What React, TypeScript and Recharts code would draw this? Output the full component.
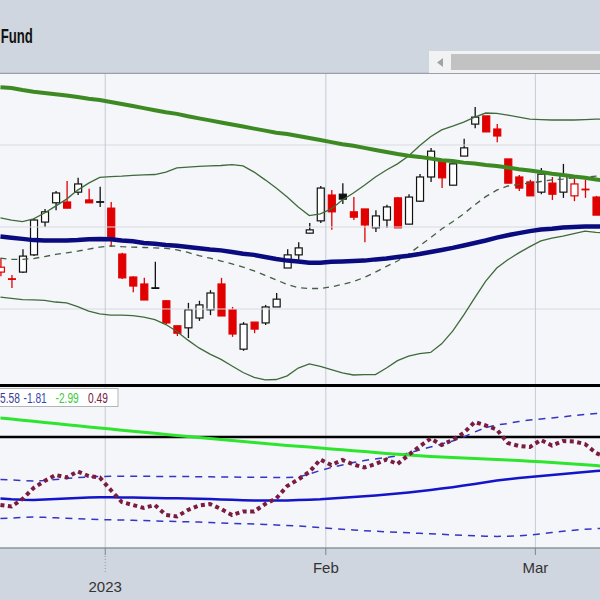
import React from 'react';
import { ComposedChart, Bar, Line, XAxis, YAxis, ReferenceLine } from 'recharts';

// trading days shown (last one only carries the overlays past the right edge)
const dates = [
  'Dec 16', 'Dec 19', 'Dec 20', 'Dec 21', 'Dec 22', 'Dec 23', 'Dec 27', 'Dec 28', 'Dec 29', 'Dec 30',
  'Jan 3', 'Jan 4', 'Jan 5', 'Jan 6', 'Jan 9', 'Jan 10', 'Jan 11', 'Jan 12', 'Jan 13', 'Jan 17',
  'Jan 18', 'Jan 19', 'Jan 20', 'Jan 23', 'Jan 24', 'Jan 25', 'Jan 26', 'Jan 27', 'Jan 30', 'Jan 31',
  'Feb 1', 'Feb 2', 'Feb 3', 'Feb 6', 'Feb 7', 'Feb 8', 'Feb 9', 'Feb 10', 'Feb 13', 'Feb 14',
  'Feb 15', 'Feb 16', 'Feb 17', 'Feb 21', 'Feb 22', 'Feb 23', 'Feb 24', 'Feb 27', 'Feb 28', 'Mar 1',
  'Mar 2', 'Mar 3', 'Mar 6', 'Mar 7', 'Mar 8', 'Mar 9',
];

const opens = [
  38.90, 38.73, 38.90, 39.32, 40.12, 40.59, 40.61, 40.85, 40.66, 40.61,
  40.46, 39.34, 38.78, 38.61, 38.51, 38.20, 37.59, 37.54, 37.78, 37.98,
  38.61, 37.98, 37.02, 37.68, 37.66, 38.05, 39.00, 39.32, 39.85, 40.15,
  40.78, 40.80, 40.37, 40.44, 39.98, 40.17, 40.71, 40.07, 40.63, 41.22,
  41.59, 41.02, 41.73, 42.51, 42.71, 42.39, 41.66, 41.22, 41.10, 40.85,
  41.07, 40.85, 40.76, 40.93, 40.73,
];
const highs = [
  39.24, 38.83, 39.46, 40.20, 40.44, 40.88, 41.12, 41.20, 40.93, 40.98,
  40.61, 39.37, 38.80, 38.76, 39.15, 38.22, 37.59, 38.15, 38.20, 38.46,
  38.76, 38.05, 37.68, 37.68, 38.10, 38.39, 39.46, 39.63, 40.10, 41.00,
  40.90, 41.07, 40.73, 40.44, 40.41, 40.54, 40.73, 40.80, 41.29, 41.93,
  41.63, 41.54, 42.15, 42.93, 42.71, 42.51, 41.66, 41.27, 41.15, 41.44,
  41.22, 41.54, 41.20, 41.15, 40.76,
];
const lows = [
  38.80, 38.51, 38.88, 39.29, 40.00, 40.41, 40.46, 40.78, 40.59, 40.49,
  39.51, 38.73, 38.41, 38.22, 38.49, 37.63, 37.34, 37.29, 37.71, 37.85,
  37.83, 37.32, 36.98, 37.41, 37.61, 38.05, 39.00, 39.20, 39.85, 40.10,
  39.93, 40.56, 40.17, 39.63, 39.88, 39.98, 39.98, 40.07, 40.61, 41.10,
  40.95, 41.02, 41.73, 42.41, 42.32, 42.07, 41.07, 40.88, 40.76, 40.80,
  40.66, 40.71, 40.63, 40.71, 40.29,
];
const closes = [
  39.02, 38.73, 39.29, 40.17, 40.37, 40.83, 40.46, 41.05, 40.59, 40.61,
  39.73, 38.76, 38.56, 38.22, 38.51, 37.66, 37.41, 37.98, 38.10, 38.39,
  37.83, 37.39, 37.63, 37.51, 38.05, 38.24, 39.32, 39.49, 39.93, 40.95,
  40.37, 40.68, 40.24, 40.05, 40.27, 40.49, 39.98, 40.73, 41.22, 41.85,
  41.20, 41.54, 41.93, 42.68, 42.32, 42.22, 41.07, 40.95, 40.76, 41.29,
  40.80, 41.27, 41.05, 40.90, 40.29,
];
const prevClose = 39.15;

const sma200 = [
  43.41, 43.39, 43.34, 43.30, 43.27, 43.24, 43.21, 43.17, 43.13, 43.10,
  43.05, 43.00, 42.95, 42.90, 42.85, 42.80, 42.76, 42.70, 42.65, 42.60,
  42.55, 42.50, 42.45, 42.40, 42.35, 42.30, 42.27, 42.22, 42.17, 42.12,
  42.07, 42.02, 41.98, 41.93, 41.88, 41.83, 41.78, 41.74, 41.71, 41.67,
  41.63, 41.61, 41.57, 41.55, 41.51, 41.49, 41.45, 41.41, 41.38, 41.34,
  41.30, 41.27, 41.23, 41.20, 41.16, 41.12,
];
const sma50 = [
  39.77, 39.74, 39.71, 39.68, 39.67, 39.67, 39.67, 39.68, 39.70, 39.71,
  39.70, 39.67, 39.65, 39.61, 39.59, 39.56, 39.54, 39.51, 39.48, 39.45,
  39.43, 39.39, 39.35, 39.32, 39.27, 39.22, 39.18, 39.16, 39.13, 39.13,
  39.15, 39.16, 39.17, 39.18, 39.21, 39.23, 39.27, 39.30, 39.34, 39.39,
  39.44, 39.49, 39.55, 39.61, 39.67, 39.74, 39.80, 39.85, 39.90, 39.94,
  39.96, 39.99, 40.00, 40.01, 40.01, 40.01,
];
const bbUpper = [
  40.22, 40.17, 40.13, 40.20, 40.34, 40.51, 40.68, 40.90, 41.07, 41.21,
  41.23, 41.24, 41.26, 41.27, 41.28, 41.34, 41.44, 41.46, 41.48, 41.49,
  41.50, 41.52, 41.49, 41.34, 41.15, 40.95, 40.73, 40.49, 40.28, 40.32,
  40.44, 40.66, 40.83, 41.02, 41.22, 41.39, 41.54, 41.73, 41.98, 42.20,
  42.37, 42.46, 42.56, 42.68, 42.78, 42.77, 42.73, 42.68, 42.63, 42.62,
  42.61, 42.61, 42.61, 42.62, 42.63, 42.63,
];
const bbMiddle = [
  39.24, 39.21, 39.21, 39.23, 39.28, 39.33, 39.37, 39.41, 39.46, 39.51,
  39.54, 39.52, 39.51, 39.50, 39.49, 39.48, 39.44, 39.38, 39.30, 39.24,
  39.17, 39.10, 39.02, 38.93, 38.82, 38.71, 38.60, 38.52, 38.50, 38.50,
  38.54, 38.60, 38.67, 38.77, 38.90, 39.04, 39.17, 39.34, 39.54, 39.74,
  39.95, 40.13, 40.32, 40.54, 40.74, 40.90, 41.00, 41.04, 41.07, 41.11,
  41.15, 41.17, 41.20, 41.22, 41.24, 41.26,
];
const bbLower = [
  38.29, 38.26, 38.23, 38.22, 38.21, 38.17, 38.15, 38.06, 37.95, 37.88,
  37.85, 37.85, 37.84, 37.80, 37.74, 37.62, 37.45, 37.24, 37.05, 36.90,
  36.77, 36.61, 36.45, 36.33, 36.27, 36.28, 36.37, 36.56, 36.66, 36.60,
  36.52, 36.44, 36.39, 36.40, 36.40, 36.56, 36.74, 36.85, 36.91, 36.94,
  37.15, 37.46, 37.85, 38.27, 38.68, 39.00, 39.20, 39.37, 39.52, 39.66,
  39.73, 39.78, 39.84, 39.90, 39.87, 39.85,
];

// lower indicator panel
const indGreen = [
  1.90, 1.80, 1.68, 1.57, 1.45, 1.34, 1.23, 1.12, 1.00, 0.90,
  0.79, 0.68, 0.58, 0.47, 0.37, 0.26, 0.16, 0.05, -0.05, -0.16,
  -0.26, -0.36, -0.46, -0.56, -0.66, -0.76, -0.84, -0.92, -1.01, -1.10,
  -1.19, -1.28, -1.37, -1.46, -1.55, -1.64, -1.73, -1.80, -1.87, -1.94,
  -2.00, -2.06, -2.11, -2.16, -2.21, -2.26, -2.31, -2.36, -2.42, -2.48,
  -2.55, -2.62, -2.70, -2.78, -2.86, -2.95,
];
const indBlue = [
  -6.15, -6.23, -6.28, -6.30, -6.26, -6.20, -6.15, -6.10, -6.06, -6.03,
  -6.03, -6.04, -6.06, -6.08, -6.10, -6.12, -6.13, -6.15, -6.17, -6.20,
  -6.24, -6.28, -6.32, -6.35, -6.36, -6.36, -6.34, -6.31, -6.28, -6.23,
  -6.15, -6.07, -6.00, -5.93, -5.85, -5.76, -5.66, -5.55, -5.43, -5.30,
  -5.16, -5.02, -4.86, -4.70, -4.53, -4.36, -4.22, -4.10, -4.00, -3.90,
  -3.80, -3.70, -3.60, -3.50, -3.40, -3.30,
];
const indUpper = [
  -4.25, -4.30, -4.35, -4.40, -4.35, -4.25, -4.15, -4.05, -4.00, -3.95,
  -3.92, -3.92, -3.93, -3.93, -3.94, -3.95, -3.95, -3.96, -3.97, -3.98,
  -4.00, -4.01, -4.02, -4.03, -4.03, -4.05, -4.05, -4.00, -3.70, -3.35,
  -3.05, -2.80, -2.55, -2.35, -2.20, -2.05, -1.90, -1.60, -1.30, -1.00,
  -0.70, -0.40, 0.00, 0.50, 0.95, 1.20, 1.35, 1.55, 1.70, 1.80,
  1.90, 2.02, 2.15, 2.25, 2.35, 2.40,
];
const indLower = [
  -8.15, -8.10, -8.05, -8.00, -8.03, -8.08, -8.13, -8.18, -8.22, -8.25,
  -8.28, -8.30, -8.33, -8.36, -8.39, -8.42, -8.45, -8.48, -8.51, -8.55,
  -8.59, -8.63, -8.67, -8.71, -8.75, -8.80, -8.85, -8.90, -8.98, -9.06,
  -9.14, -9.22, -9.30, -9.37, -9.43, -9.48, -9.53, -9.58, -9.63, -9.68,
  -9.73, -9.78, -9.83, -9.88, -9.92, -9.94, -9.93, -9.88, -9.80, -9.68,
  -9.55, -9.43, -9.32, -9.23, -9.16, -9.10,
];
const indMaroon = [
  -6.80, -6.95, -6.20, -5.10, -4.40, -3.80, -4.05, -3.45, -3.90, -4.05,
  -5.30, -6.50, -6.80, -7.10, -6.80, -7.80, -7.95, -7.30, -6.85, -6.70,
  -7.20, -7.80, -7.45, -7.45, -6.70, -6.15, -4.90, -4.25, -3.50, -2.25,
  -2.80, -2.30, -2.75, -3.05, -2.70, -2.25, -2.70, -1.80, -0.95, -0.15,
  -0.80, -0.30, 0.40, 1.50, 1.15, 0.75, -0.60, -0.90, -1.00, -0.30,
  -0.85, -0.40, -0.45, -0.70, -1.60, -2.10,
];

const monthTicks = [9.5, 29.5, 48.5];
const monthLabels = ['2023', 'Feb', 'Mar'];
const legendValues = ['5.58', '-1.81', '-2.99', '0.49'];
const legendColors = ['#3b3b94', '#3347b8', '#3ccc3c', '#7a2246'];

const X_DOMAIN: [number, number] = [-0.04, 54.36];
const sans = "'Liberation Sans', Arial, sans-serif";

const priceData = dates.map((date, i) => {
  const has = i < closes.length;
  return {
    i,
    date,
    range: has ? [lows[i], highs[i]] : null,
    open: has ? opens[i] : null,
    high: has ? highs[i] : null,
    low: has ? lows[i] : null,
    close: has ? closes[i] : null,
    prev: i === 0 ? prevClose : closes[i - 1],
    sma200: sma200[i],
    sma50: sma50[i],
    bbUpper: bbUpper[i],
    bbMiddle: bbMiddle[i],
    bbLower: bbLower[i],
  };
});

const indData = dates.map((date, i) => ({
  i,
  date,
  green: indGreen[i],
  blue: indBlue[i],
  upper: indUpper[i],
  lower: indLower[i],
  maroon: indMaroon[i],
}));

function Candle(props: any) {
  const { x, y, width, height, payload } = props;
  if (!payload || payload.open == null || !height) return null;
  const top = Math.min(y, y + height);
  const k = Math.abs(height) / (payload.high - payload.low);
  const py = (v: number) => top + (payload.high - v) * k;
  const cx = x + width / 2;
  const color = payload.close >= payload.prev ? '#111111' : '#e00000';
  const filled = payload.close < payload.open;
  const bTop = py(Math.max(payload.open, payload.close));
  const bh = py(Math.min(payload.open, payload.close)) - bTop;
  return (
    <g>
      <line x1={cx} x2={cx} y1={py(payload.high)} y2={py(payload.low)} stroke={color} strokeWidth={1.3} />
      {bh < 1.5 ? (
        <line x1={cx - 4} x2={cx + 4} y1={bTop + bh / 2} y2={bTop + bh / 2} stroke={color} strokeWidth={1.8} />
      ) : (
        <rect x={cx - 3.5} y={bTop} width={7} height={bh} fill={filled ? color : '#ffffff'} stroke={color} strokeWidth={1.2} />
      )}
    </g>
  );
}

function MonthTick(props: any) {
  const { x, payload } = props;
  const idx = monthTicks.indexOf(payload.value);
  const label = monthLabels[idx];
  const isYear = idx === 0;
  return (
    <g>
      <line x1={x} x2={x} y1={161} y2={168} stroke="#7d838c" strokeWidth={1} />
      {isYear && <line x1={x} x2={x} y1={169} y2={186} stroke="#8d939c" strokeDasharray="1 2" />}
      <text x={x} y={isYear ? 205 : 186} textAnchor="middle" fontSize={15} fill="#333" fontFamily={sans}>{label}</text>
    </g>
  );
}

// the original uses a condensed face: squeeze horizontally
const LEGEND_SX = 0.68;
const legendX = [0, 23.5, 55.5, 88];

export default function App() {
  return (
    <div style={{ position: 'absolute', left: 0, top: 0, width: 600, height: 600, overflow: 'hidden', background: '#f4f6fa' }}>
      {/* header */}
      <svg width={600} height={74} style={{ position: 'absolute', left: 0, top: 0 }}>
        <rect x={0} y={0} width={600} height={74} fill="#d0d6e0" />
        <line x1={0} x2={600} y1={73.5} y2={73.5} stroke="#9aa0a9" strokeWidth={1.5} />
        <g transform="scale(0.66 1)">
          <text x={1} y={43} fontSize={20} fontWeight="bold" fill="#111" fontFamily={sans}>Fund</text>
        </g>
        <rect x={429} y={51} width={171} height={22} fill="#f1f2f4" />
        <polygon points="443,58 443,67 437,62.5" fill="#a3a3a3" />
        <rect x={451} y={54} width={149} height={16} fill="#c2c2c2" />
      </svg>

      {/* price panel */}
      <div style={{ position: 'absolute', left: 0, top: 74, width: 600, height: 311 }}>
        <ComposedChart width={600} height={311} data={priceData} margin={{ top: 0, right: 0, bottom: 0, left: 0 }}>
          <XAxis dataKey="i" type="number" domain={X_DOMAIN} allowDataOverflow hide />
          <YAxis type="number" domain={[36.146, 43.732]} allowDataOverflow hide />
          {[38, 40, 42].map((v) => (
            <ReferenceLine key={v} y={v} stroke="#d8dbe1" strokeWidth={1} />
          ))}
          {monthTicks.map((t) => (
            <ReferenceLine key={t} x={t} stroke="#c6cad1" strokeWidth={1} />
          ))}
          <Bar dataKey="range" barSize={8} isAnimationActive={false} shape={(p: any) => <Candle {...p} />} />
          <Line dataKey="bbUpper" stroke="#3f6a3a" strokeWidth={1.3} dot={false} isAnimationActive={false} />
          <Line dataKey="bbLower" stroke="#3f6a3a" strokeWidth={1.3} dot={false} isAnimationActive={false} />
          <Line dataKey="bbMiddle" stroke="#445e44" strokeWidth={1.3} strokeDasharray="6 5" dot={false} isAnimationActive={false} />
          <Line dataKey="sma50" stroke="#0b0b80" strokeWidth={4.5} dot={false} isAnimationActive={false} />
          <Line dataKey="sma200" stroke="#3d8a22" strokeWidth={4} dot={false} isAnimationActive={false} />
        </ComposedChart>
      </div>

      <div style={{ position: 'absolute', left: 0, top: 384, width: 600, height: 3, background: '#000' }} />

      {/* indicator panel + date axis */}
      <div style={{ position: 'absolute', left: 0, top: 387, width: 600, height: 213 }}>
        <div style={{ position: 'absolute', left: 0, top: 161, width: 600, height: 52, background: '#d0d6e0' }} />
        <ComposedChart width={600} height={213} data={indData} margin={{ top: 0, right: 0, bottom: 0, left: 0 }}>
          <XAxis dataKey="i" type="number" domain={X_DOMAIN} allowDataOverflow ticks={monthTicks} interval={0}
            height={52} axisLine={{ stroke: '#8e949c', strokeWidth: 1.5 }} tickLine={false} tick={<MonthTick />} />
          <YAxis type="number" domain={[-11.1, 5]} allowDataOverflow hide />
          {monthTicks.map((t) => (
            <ReferenceLine key={t} x={t} stroke="#c6cad1" strokeWidth={1} />
          ))}
          <ReferenceLine y={0} stroke="#000" strokeWidth={2.5} />
          <Line dataKey="upper" stroke="#3535c4" strokeWidth={1.5} strokeDasharray="7 6" dot={false} isAnimationActive={false} />
          <Line dataKey="lower" stroke="#3535c4" strokeWidth={1.5} strokeDasharray="7 6" dot={false} isAnimationActive={false} />
          <Line dataKey="blue" stroke="#1414c8" strokeWidth={2.5} dot={false} isAnimationActive={false} />
          <Line dataKey="green" stroke="#2ee52e" strokeWidth={3} dot={false} isAnimationActive={false} />
          <Line dataKey="maroon" stroke="#7a1c40" strokeWidth={4} strokeDasharray="4 3.5" dot={false} isAnimationActive={false} />
        </ComposedChart>
      </div>

      {/* value legend */}
      <svg width={130} height={24} style={{ position: 'absolute', left: 0, top: 387 }}>
        <rect x={-1} y={1.5} width={119} height={18} fill="#ffffff" stroke="#b4b4b4" strokeWidth={1} />
        <g transform={`scale(${LEGEND_SX} 1)`}>
          {legendValues.map((v, k) => (
            <text key={k} x={legendX[k] / LEGEND_SX} y={16} fontSize={15} fontFamily={sans} fill={legendColors[k]}>{v}</text>
          ))}
        </g>
      </svg>
    </div>
  );
}
